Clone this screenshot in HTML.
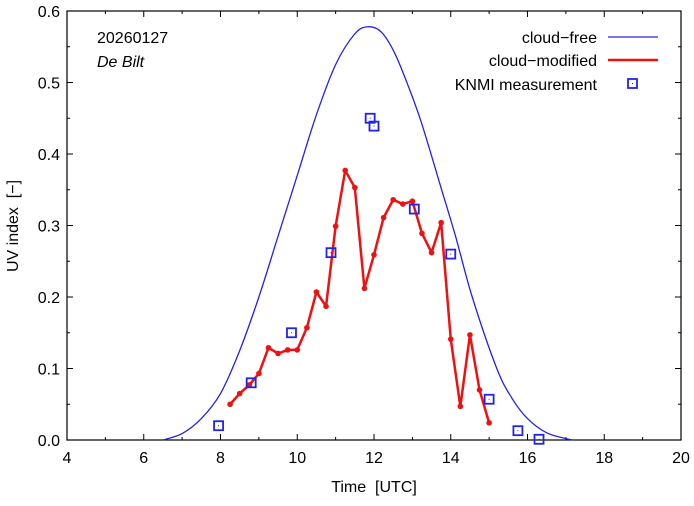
<!DOCTYPE html>
<html><head><meta charset="utf-8"><style>
body{margin:0;background:#fff}
svg text{font-family:"Liberation Sans",sans-serif;font-size:16px;fill:#000;white-space:pre}
</style></head><body>
<svg id="chart" width="694" height="501" viewBox="0 0 694 501" xmlns="http://www.w3.org/2000/svg">
<g id="axes"></g>
<g id="series"></g>
<text x="97" y="43">20260127</text>
<text x="97" y="67" font-style="italic">De Bilt</text>
<g>
<text x="597" y="43" text-anchor="end">cloud−free</text>
<line x1="608" y1="37" x2="658" y2="37" stroke="#2222ee" stroke-width="1.3"/>
<text x="597" y="66" text-anchor="end">cloud−modified</text>
<line x1="608" y1="60" x2="658" y2="60" stroke="#ee1111" stroke-width="2.5"/>
<text x="597" y="90" text-anchor="end">KNMI measurement</text>
<rect x="628" y="79" width="9" height="9" fill="none" stroke="#2222ee" stroke-width="1.8"/>
<rect x="632" y="83" width="1" height="1" fill="#2222ee"/>
</g>
<text x="374" y="492" text-anchor="middle">Time  [UTC]</text>
<text transform="translate(18,226) rotate(-90)" text-anchor="middle">UV index  [−]</text>
</svg>
<script>
const xTicks=[4,6,8,10,12,14,16,18,20];
const yTicks=[0.0,0.1,0.2,0.3,0.4,0.5,0.6];
const clearT=[6.5,7,7.5,8,8.5,9,9.5,10,10.5,11,11.5,11.85,12.2,12.54,12.9,13.21,13.48,13.74,14.13,14.56,15.2,15.6,16,16.5,17,17.2];
const clearV=[0,0.009,0.03,0.065,0.125,0.2,0.285,0.37,0.455,0.525,0.568,0.578,0.570,0.541,0.494,0.448,0.401,0.354,0.284,0.2,0.1,0.058,0.03,0.01,0.002,0];
const cloudT=[8.25,8.5,8.75,9,9.25,9.5,9.75,10,10.25,10.5,10.75,11,11.25,11.5,11.75,12,12.25,12.5,12.75,13,13.25,13.5,13.75,14,14.25,14.5,14.75,15];
const cloudV=[0.05,0.065,0.077,0.093,0.129,0.121,0.126,0.126,0.157,0.207,0.187,0.299,0.377,0.353,0.212,0.259,0.311,0.336,0.330,0.334,0.289,0.262,0.304,0.141,0.047,0.147,0.070,0.024];
const measT=[7.95,8.8,9.85,10.88,11.9,12.0,13.05,14.0,15.0,15.75,16.3];
const measV=[0.02,0.08,0.15,0.262,0.45,0.439,0.323,0.26,0.057,0.013,0.001];
const L=67,R=681,T=11,B=440;
const X=t=>L+(t-4)/16*(R-L);
const Y=v=>B-v/0.6*(B-T);
const NS='http://www.w3.org/2000/svg';
function mk(tag,attrs,parent){const e=document.createElementNS(NS,tag);for(const k in attrs)e.setAttribute(k,attrs[k]);parent.appendChild(e);return e;}
const ax=document.getElementById('axes'),se=document.getElementById('series');
const frame=mk('rect',{x:L,y:T,width:R-L,height:B-T,fill:'none',stroke:'#000','stroke-width':1.2},ax);


for(let h=4;h<=20;h++){const x=X(h),len=(h%2==0)?6:3;
 mk('line',{x1:x,y1:B,x2:x,y2:B-len,stroke:'#000'},ax);mk('line',{x1:x,y1:T,x2:x,y2:T+len,stroke:'#000'},ax);}
for(let i=0;i<=12;i++){const y=Y(i*0.05),len=(i%2==0)?6:3;
 mk('line',{x1:L,y1:y,x2:L+len,y2:y,stroke:'#000'},ax);mk('line',{x1:R,y1:y,x2:R-len,y2:y,stroke:'#000'},ax);}
xTicks.forEach(t=>{const e=mk('text',{x:X(t),y:B+23,'text-anchor':'middle'},ax);e.textContent=t;
 
 });
yTicks.forEach(v=>{const e=mk('text',{x:L-7,y:Y(v)+6,'text-anchor':'end'},ax);e.textContent=v.toFixed(1);
 
 });
const P=clearT.map((t,i)=>[X(t),Y(clearV[i])]);
let d='M'+P[0][0]+','+P[0][1];
for(let i=0;i<P.length-1;i++){const p0=P[Math.max(0,i-1)],p1=P[i],p2=P[i+1],p3=P[Math.min(P.length-1,i+2)];
 const c1=[p1[0]+(p2[0]-p0[0])/6,p1[1]+(p2[1]-p0[1])/6],c2=[p2[0]-(p3[0]-p1[0])/6,p2[1]-(p3[1]-p1[1])/6];
 d+=' C'+c1.join(',')+' '+c2.join(',')+' '+p2.join(',');}
const cf=mk('path',{d:d,fill:'none',stroke:'#2222ee','stroke-width':1.3},se);


const cm=mk('polyline',{points:cloudT.map((t,i)=>X(t)+','+Y(cloudV[i])).join(' '),fill:'none',stroke:'#ee1111','stroke-width':2.5,'stroke-linejoin':'round'},se);


cloudT.forEach((t,i)=>{const c=mk('circle',{cx:X(t),cy:Y(cloudV[i]),r:2.8,fill:'#ee1111'},se);
 
 });
measT.forEach((t,i)=>{const x=X(t),y=Y(measV[i]);
 const r=mk('rect',{x:x-4.5,y:y-4.5,width:9,height:9,fill:'none',stroke:'#2222ee','stroke-width':1.8},se);
 
 
 mk('rect',{x:x-0.5,y:y-0.5,width:1,height:1,fill:'#2222ee'},se);});
</script>
</body></html>
